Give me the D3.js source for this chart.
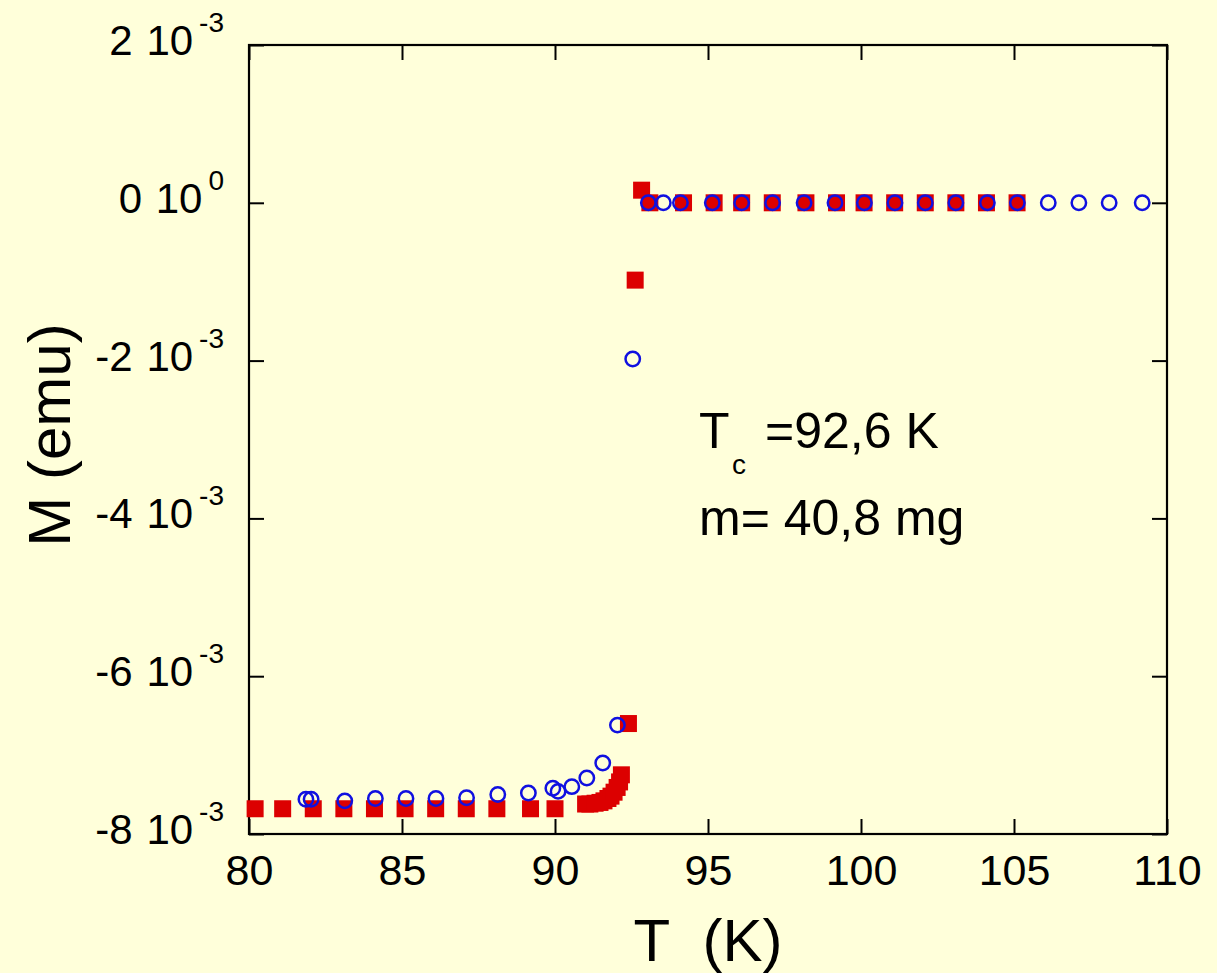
<!DOCTYPE html>
<html>
<head>
<meta charset="utf-8">
<script src="https://cdn.jsdelivr.net/npm/d3@7"></script>
<style>
  html, body { margin: 0; padding: 0; background: #FFFFDA; }
  svg { display: block; font-family: Arial, "Liberation Sans", sans-serif; }
</style>
</head>
<body>
<svg id="chart" width="1217" height="973"></svg>
<script>
// Temperature (K) and magnetic moment (emu) – filled squares series
const squareT = [80.2, 81.1, 82.1, 83.1, 84.1, 85.1, 86.1, 87.1, 88.1, 89.2, 90.0,
  91.00, 91.14, 91.31, 91.47, 91.60, 91.73, 91.83, 91.93, 92.03, 92.11, 92.17,
  92.40, 92.62, 92.83,
  93.1, 94.2, 95.2, 96.1, 97.1, 98.2, 99.2, 100.1, 101.1, 102.1, 103.1, 104.1, 105.1];
const squareM = [-7.68e-3, -7.68e-3, -7.68e-3, -7.68e-3, -7.68e-3, -7.68e-3, -7.68e-3, -7.68e-3, -7.68e-3, -7.68e-3, -7.68e-3,
  -7.62e-3, -7.62e-3, -7.61e-3, -7.60e-3, -7.58e-3, -7.55e-3, -7.52e-3, -7.47e-3, -7.41e-3, -7.34e-3, -7.25e-3,
  -6.60e-3, -0.98e-3, 0.16e-3,
  0, 0, 0, 0, 0, 0, 0, 0, 0, 0, 0, 0, 0];

// Open circles series
const circleT = [81.86, 82.03, 83.13, 84.13, 85.13, 86.11, 87.11, 88.13, 89.13,
  89.93, 90.10, 90.55, 91.04, 91.56, 92.04, 92.54,
  93.05, 93.54, 94.10, 95.14, 96.10, 97.11, 98.14, 99.15, 100.11, 101.11,
  102.1, 103.1, 104.13, 105.11, 106.12, 107.12, 108.11, 109.19];
const circleM = [-7.56e-3, -7.56e-3, -7.58e-3, -7.55e-3, -7.55e-3, -7.55e-3, -7.54e-3, -7.50e-3, -7.48e-3,
  -7.42e-3, -7.46e-3, -7.40e-3, -7.29e-3, -7.10e-3, -6.62e-3, -1.98e-3,
  0, 0, 0, 0, 0, 0, 0, 0, 0, 0,
  0, 0, 0, 0, 0, 0, 0, 0];

// Axis ticks and their labels (mantissa and power of ten)
const xTickValues = [80, 85, 90, 95, 100, 105, 110];
const yTickValues = [2e-3, 0, -2e-3, -4e-3, -6e-3, -8e-3];
const yTickMantissa = ["2", "0", "-2", "-4", "-6", "-8"];
const yTickExponent = ["-3", "0", "-3", "-3", "-3", "-3"];

const xTitle = "T  (K)";
const yTitle = "M (emu)";
const noteTc = ["T", "c", "=92,6 K"];
const noteMass = "m= 40,8 mg";

const svg = d3.select("#chart");
const plot = { left: 249, top: 45, right: 1167, bottom: 834 };

const x = d3.scaleLinear().domain([80, 110]).range([plot.left, plot.right]);
const y = d3.scaleLinear().domain([-8e-3, 2e-3]).range([plot.bottom, plot.top]);

const ink = "#000";

// Frame
svg.append("rect")
  .attr("x", plot.left).attr("y", plot.top)
  .attr("width", plot.right - plot.left).attr("height", plot.bottom - plot.top)
  .attr("fill", "none").attr("stroke", ink).attr("stroke-width", 2.2);

function styleAxis(g) {
  g.select(".domain").remove();
  g.selectAll(".tick line").attr("stroke", ink).attr("stroke-width", 2);
}

// Bottom axis with labels, inward ticks
const gx = svg.append("g")
  .attr("transform", `translate(0,${plot.bottom})`)
  .call(d3.axisBottom(x).tickValues(xTickValues).tickSize(-15).tickPadding(20).tickFormat(d3.format("d")));
styleAxis(gx);
gx.selectAll(".tick text").attr("font-size", 43).attr("fill", ink).attr("font-family", null);

// Top axis (ticks only)
const gxt = svg.append("g")
  .attr("transform", `translate(0,${plot.top})`)
  .call(d3.axisTop(x).tickValues(xTickValues).tickSize(-15).tickFormat(() => ""));
styleAxis(gxt);

// Left axis with mantissa x 10^exponent labels
const gy = svg.append("g")
  .attr("transform", `translate(${plot.left},0)`)
  .call(d3.axisLeft(y).tickValues(yTickValues).tickSize(-15).tickFormat(() => ""));
styleAxis(gy);
gy.selectAll(".tick text").remove();
gy.selectAll(".tick").each(function (d) {
  const i = yTickValues.indexOf(d);
  const t = d3.select(this).append("text")
    .attr("x", -25).attr("y", 9.5)
    .attr("text-anchor", "end")
    .attr("fill", ink)
    .attr("font-size", 42);
  t.append("tspan").text(yTickMantissa[i] + " ");
  t.append("tspan").attr("dx", 2).text("10");
  t.append("tspan").attr("dx", 6).attr("dy", -23).attr("font-size", 28).text(yTickExponent[i]);
});

// Right axis (ticks only)
const gyr = svg.append("g")
  .attr("transform", `translate(${plot.right},0)`)
  .call(d3.axisRight(y).tickValues(yTickValues).tickSize(-15).tickFormat(() => ""));
styleAxis(gyr);

// Axis titles
svg.append("text")
  .attr("x", (plot.left + plot.right) / 2).attr("y", 961)
  .attr("text-anchor", "middle").attr("font-size", 60)
  .style("white-space", "pre").attr("fill", ink)
  .text(xTitle);

svg.append("text")
  .attr("transform", `translate(70,435) rotate(-90)`)
  .attr("text-anchor", "middle").attr("font-size", 60).attr("fill", ink)
  .text(yTitle);

// Filled red squares
const sq = 17;
svg.append("g").selectAll("rect")
  .data(d3.zip(squareT, squareM))
  .join("rect")
  .attr("x", d => x(d[0]) - sq / 2)
  .attr("y", d => y(d[1]) - sq / 2)
  .attr("width", sq).attr("height", sq)
  .attr("fill", "#DC0000");

// Open blue circles drawn over the squares
svg.append("g").selectAll("circle")
  .data(d3.zip(circleT, circleM))
  .join("circle")
  .attr("cx", d => x(d[0]))
  .attr("cy", d => y(d[1]))
  .attr("r", 7.2)
  .attr("fill", "none")
  .attr("stroke", "#1010E0")
  .attr("stroke-width", 2.5);

// Annotation
const note = svg.append("g").attr("fill", ink);
note.append("text").attr("x", 699).attr("y", 448).attr("font-size", 50).text(noteTc[0]);
note.append("text").attr("x", 732).attr("y", 474).attr("font-size", 28).text(noteTc[1]);
note.append("text").attr("x", 765).attr("y", 448).attr("font-size", 50).text(noteTc[2]);
note.append("text").attr("x", 699).attr("y", 535).attr("font-size", 50).text(noteMass);
</script>
</body>
</html>
